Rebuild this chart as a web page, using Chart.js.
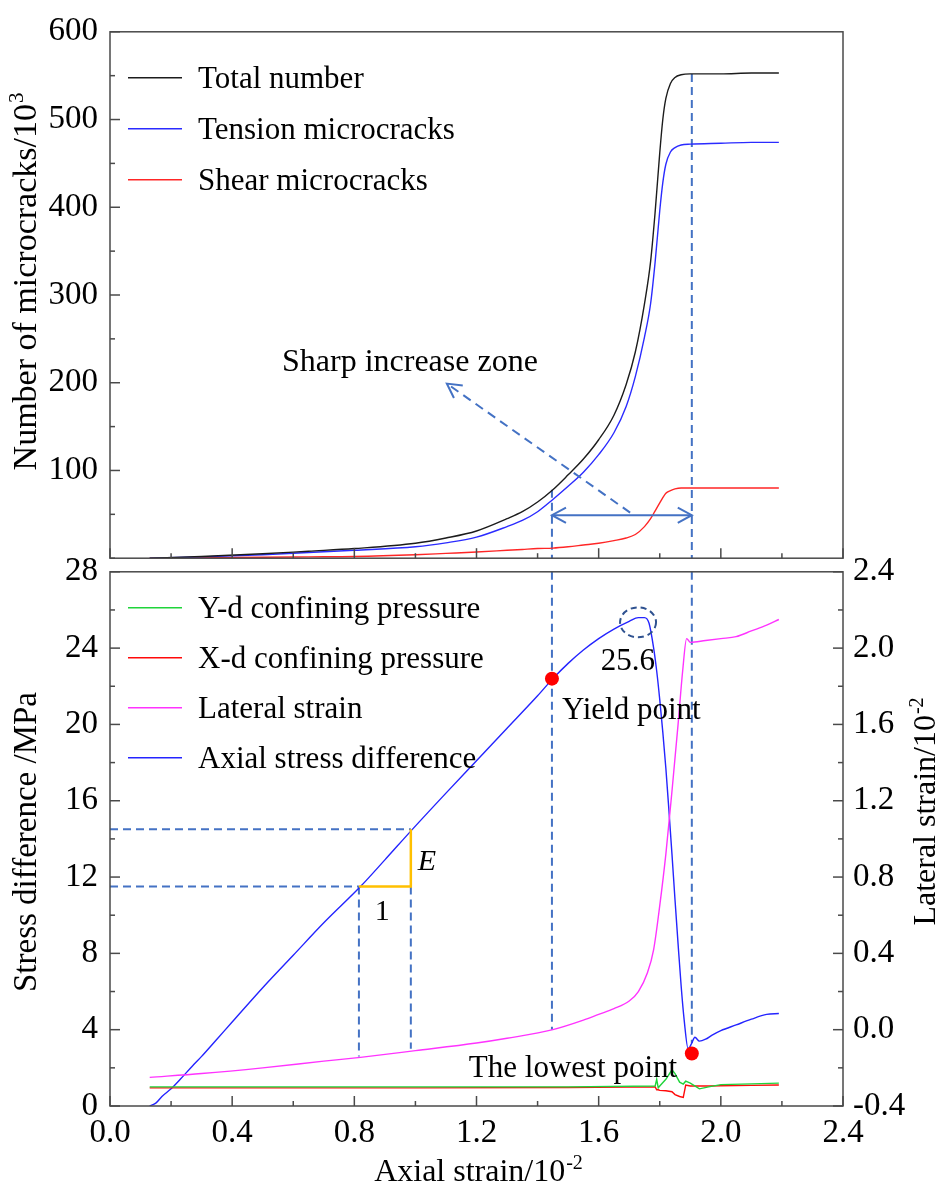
<!DOCTYPE html>
<html>
<head>
<meta charset="utf-8">
<title>Microcracks and stress-strain response</title>
<script src="https://cdn.jsdelivr.net/npm/chart.js@4.4.1/dist/chart.umd.min.js"></script>
<style>
  html, body { margin: 0; padding: 0; background: #fff; }
  #fig { position: relative; width: 938px; height: 1190px; overflow: hidden; }
  #fig canvas { position: absolute; left: 0; }
  #crackChart { top: 0; }
  #stressChart { top: 540px; }
</style>
</head>
<body>
<div id="fig">
  <canvas id="crackChart" width="938" height="590"></canvas>
  <canvas id="stressChart" width="938" height="650"></canvas>
</div>
<script>
var FONT = "'Liberation Serif', 'Times New Roman', serif";
var GUIDE = '#4472c4';

// upper panel: microcrack counts (x 10^3) against axial strain (x 10^-2)
var crackStrain   = [0.13, 0.3, 0.5, 0.65, 0.8, 1.0, 1.1, 1.2, 1.3, 1.35, 1.4, 1.45, 1.5, 1.55, 1.6, 1.65, 1.69, 1.72, 1.75, 1.77, 1.785, 1.8, 1.81, 1.82, 1.835, 1.85, 1.87, 1.9, 2.0, 2.1, 2.19];
var totalCracks   = [0, 2, 5, 8, 11, 17, 23, 31, 45, 53, 64, 78, 95, 113, 135, 163, 198, 235, 290, 338, 395, 462, 500, 524, 541, 548, 551, 552, 552, 553, 553];
var tensionCracks = [0, 1.5, 4, 6.5, 9, 13, 17.5, 24, 36, 43, 53, 67, 82, 98, 118, 143, 173, 207, 252, 290, 338, 396, 428, 449, 463, 468, 471, 472, 473, 474, 474];
var shearCracks   = [0, 0.5, 1, 1.5, 2, 4, 5.5, 7, 9, 10, 11, 11.5, 13, 15, 17, 20, 23, 27, 36, 45, 54, 63, 69, 74, 77, 79, 80, 80, 80, 80, 80];

// lower panel: stress difference (MPa) and lateral strain (x 10^-2)
var axialStrain = [0.13, 0.15, 0.17, 0.2, 0.23, 0.27, 0.3, 0.35, 0.4, 0.5, 0.6, 0.7, 0.82, 0.9, 0.99, 1.1, 1.2, 1.3, 1.4, 1.45, 1.5, 1.55, 1.6, 1.65, 1.7, 1.73, 1.75, 1.765, 1.78, 1.79, 1.8, 1.81, 1.82, 1.83, 1.84, 1.85, 1.86, 1.87, 1.88, 1.893, 1.905, 1.915, 1.93, 1.95, 1.97, 2.0, 2.05, 2.1, 2.15, 2.19];
var axialStress = [0, 0.15, 0.5, 0.9, 1.4, 2.1, 2.6, 3.5, 4.4, 6.2, 7.9, 9.6, 11.5, 12.9, 14.5, 16.4, 18.1, 19.8, 21.5, 22.4, 23.2, 23.9, 24.5, 25.0, 25.4, 25.6, 25.6, 25.3, 24.0, 22.8, 21.3, 19.6, 17.7, 15.5, 13.2, 10.8, 8.5, 6.3, 4.5, 3.0, 3.3, 3.6, 3.4, 3.5, 3.7, 3.95, 4.25, 4.55, 4.8, 4.85];

var lateralX      = [0.13, 0.3, 0.5, 0.7, 0.82, 1.0, 1.2, 1.3, 1.45, 1.55, 1.6, 1.65, 1.7, 1.73, 1.76, 1.78, 1.8, 1.82, 1.84, 1.86, 1.875, 1.888, 1.9, 1.95, 2.0, 2.05, 2.1, 2.15, 2.19];
var lateralStrain = [-0.25, -0.23, -0.2, -0.165, -0.145, -0.11, -0.07, -0.045, 0.0, 0.05, 0.08, 0.11, 0.15, 0.2, 0.3, 0.42, 0.65, 0.92, 1.25, 1.6, 1.88, 2.05, 2.03, 2.04, 2.05, 2.06, 2.09, 2.12, 2.15];

var confStrain = [0.13, 0.5, 1.0, 1.5, 1.785, 1.79, 1.795, 1.8, 1.82, 1.84, 1.85, 1.865, 1.877, 1.885, 1.9, 1.93, 1.96, 2.0, 2.1, 2.19];
var yConfining = [1.0, 1.0, 1.0, 1.0, 1.05, 1.4, 0.95, 1.05, 1.4, 1.9, 1.7, 1.25, 1.15, 1.3, 1.2, 0.9, 1.0, 1.12, 1.16, 1.2];
var xConfining = [0.95, 0.95, 0.95, 0.97, 1.0, 0.85, 0.85, 0.82, 0.8, 0.75, 0.6, 0.5, 0.45, 1.1, 1.05, 1.05, 1.05, 1.06, 1.08, 1.1];

var yieldPoint  = {x: 1.447, y: 22.4};
var lowestPoint = {x: 1.905, y: 2.75};
var peakLabel   = '25.6';

// modulus triangle
var modulusLow  = {x: 0.815, y: 11.5};
var modulusHigh = {x: 0.985, y: 14.5};

// axis ticks
var strainTicks  = [0, 0.4, 0.8, 1.2, 1.6, 2.0, 2.4];
var crackTicks   = [100, 200, 300, 400, 500, 600];
var stressTicks  = [0, 4, 8, 12, 16, 20, 24, 28];
var lateralTicks = [-0.4, 0, 0.4, 0.8, 1.2, 1.6, 2.0, 2.4];

function xy(xs, ys) {
  return xs.map(function (x, i) { return {x: x, y: ys[i]}; });
}

function fixTicks(list) {
  return function (s) { s.ticks = list.map(function (v) { return {value: v}; }); };
}

function seg(ctx, x1, y1, x2, y2) {
  ctx.beginPath(); ctx.moveTo(x1, y1); ctx.lineTo(x2, y2); ctx.stroke();
}

function arrowHead(ctx, tipX, tipY, fromX, fromY, size) {
  var a = Math.atan2(tipY - fromY, tipX - fromX);
  ctx.beginPath();
  ctx.moveTo(tipX - size * Math.cos(a - 0.5), tipY - size * Math.sin(a - 0.5));
  ctx.lineTo(tipX, tipY);
  ctx.lineTo(tipX - size * Math.cos(a + 0.5), tipY - size * Math.sin(a + 0.5));
  ctx.stroke();
}

// rotated / horizontal title with a small raised exponent
function drawTitle(ctx, text, sup, x, y, rot, size) {
  ctx.save();
  ctx.translate(x, y);
  ctx.rotate(rot);
  ctx.fillStyle = '#000';
  ctx.textBaseline = 'alphabetic';
  ctx.textAlign = 'left';
  ctx.font = size + 'px ' + FONT;
  var w1 = ctx.measureText(text).width;
  ctx.font = Math.round(size * 0.62) + 'px ' + FONT;
  var w2 = ctx.measureText(sup).width;
  var start = -(w1 + w2) / 2;
  ctx.font = size + 'px ' + FONT;
  ctx.fillText(text, start, 0);
  ctx.font = Math.round(size * 0.62) + 'px ' + FONT;
  ctx.fillText(sup, start + w1 + 1, -size * 0.38);
  ctx.restore();
}

function label(ctx, text, x, y, align, size, style) {
  ctx.font = (style ? style + ' ' : '') + size + 'px ' + FONT;
  ctx.textAlign = align;
  ctx.textBaseline = 'alphabetic';
  ctx.fillStyle = '#000';
  ctx.fillText(text, x, y);
}

// frame plus inward tick marks
var frameTicks = {
  id: 'frameTicks',
  afterDraw: function (chart, args, opts) {
    var ctx = chart.ctx, a = chart.chartArea;
    ctx.save();
    ctx.strokeStyle = '#4a4a4a';
    ctx.lineWidth = 1.5;
    ctx.setLineDash([]);
    ctx.strokeRect(a.left, a.top, a.right - a.left, a.bottom - a.top);
    opts.axes.forEach(function (ax) {
      var s = chart.scales[ax.id];
      var majors = s.ticks.map(function (t) { return t.value; });
      var n = Math.round((s.max - s.min) / ax.minor);
      for (var i = 0; i <= n; i++) {
        var v = s.min + i * ax.minor;
        var major = majors.some(function (m) { return Math.abs(m - v) < 1e-6; });
        var len = major ? 10 : 5;
        var p = s.getPixelForValue(v);
        if (ax.side === 'left') seg(ctx, a.left, p, a.left + len, p);
        if (ax.side === 'right') seg(ctx, a.right, p, a.right - len, p);
        if (ax.side === 'bottom') seg(ctx, p, a.bottom, p, a.bottom - len);
      }
    });
    ctx.restore();
  }
};

// legend drawn inside the plot area
var innerLegend = {
  id: 'innerLegend',
  afterDraw: function (chart, args, opts) {
    var ctx = chart.ctx, a = chart.chartArea;
    ctx.save();
    ctx.font = '31px ' + FONT;
    ctx.textBaseline = 'middle';
    ctx.textAlign = 'left';
    opts.items.forEach(function (idx, i) {
      var ds = chart.data.datasets[idx];
      var y = a.top + opts.first + i * opts.gap;
      ctx.strokeStyle = ds.borderColor;
      ctx.lineWidth = 1.6;
      seg(ctx, a.left + 18, y, a.left + 72, y);
      ctx.fillStyle = '#000';
      ctx.fillText(ds.label, a.left + 88, y + 2);
    });
    ctx.restore();
  }
};

var tickFont = {family: FONT, size: 33};

// ---------- upper panel ----------
var crackNotes = {
  id: 'crackNotes',
  beforeDatasetsDraw: function (chart) {
    var ctx = chart.ctx, x = chart.scales.x, y = chart.scales.y;
    ctx.save();
    ctx.strokeStyle = GUIDE;
    ctx.lineWidth = 2;
    ctx.setLineDash([8, 5]);
    var yTop = totalCracks[crackStrain.indexOf(1.45)];
    seg(ctx, x.getPixelForValue(yieldPoint.x), y.getPixelForValue(yTop), x.getPixelForValue(yieldPoint.x), y.bottom);
    seg(ctx, x.getPixelForValue(lowestPoint.x), y.getPixelForValue(552), x.getPixelForValue(lowestPoint.x), y.bottom);
    ctx.restore();
  },
  afterDatasetsDraw: function (chart) {
    var ctx = chart.ctx, x = chart.scales.x, y = chart.scales.y;
    ctx.save();
    ctx.strokeStyle = GUIDE;
    ctx.lineWidth = 2;
    // dashed pointer to the zone label
    ctx.setLineDash([9, 6]);
    var x1 = x.getPixelForValue(1.703), y1 = y.getPixelForValue(52);
    var x2 = x.getPixelForValue(1.103), y2 = y.getPixelForValue(199);
    seg(ctx, x1, y1, x2, y2);
    ctx.setLineDash([]);
    arrowHead(ctx, x2, y2, x1, y1, 16);
    // double arrow spanning yield to lowest point
    var za = x.getPixelForValue(yieldPoint.x), zb = x.getPixelForValue(lowestPoint.x), zy = y.getPixelForValue(49);
    seg(ctx, za, zy, zb, zy);
    arrowHead(ctx, za, zy, zb, zy, 16);
    arrowHead(ctx, zb, zy, za, zy, 16);
    label(ctx, 'Sharp increase zone', x.getPixelForValue(0.982), y.getPixelForValue(213), 'center', 32);
    ctx.restore();
  },
  afterDraw: function (chart) {
    drawTitle(chart.ctx, 'Number of microcracks/10', '3', 36, 282, -Math.PI / 2, 34);
  }
};

new Chart(document.getElementById('crackChart'), {
  type: 'line',
  data: {
    datasets: [
      {label: 'Total number', data: xy(crackStrain, totalCracks), borderColor: '#1c1c1c'},
      {label: 'Tension microcracks', data: xy(crackStrain, tensionCracks), borderColor: '#2b2bff'},
      {label: 'Shear microcracks', data: xy(crackStrain, shearCracks), borderColor: '#ff2626'}
    ]
  },
  options: {
    responsive: false,
    animation: false,
    devicePixelRatio: 1,
    elements: {
      line: {borderWidth: 1.4, cubicInterpolationMode: 'monotone'},
      point: {radius: 0}
    },
    layout: {padding: {left: 0, right: 95, top: 27, bottom: 23}},
    plugins: {
      legend: {display: false},
      tooltip: {enabled: false},
      innerLegend: {items: [0, 1, 2], first: 46, gap: 51},
      frameTicks: {axes: [{id: 'y', side: 'left', minor: 50}, {id: 'x', side: 'bottom', minor: 0.2}]}
    },
    scales: {
      x: {
        type: 'linear', min: 0, max: 2.4,
        afterBuildTicks: fixTicks(strainTicks),
        afterFit: function (s) { s.height = 0; },
        ticks: {display: false},
        grid: {display: false, drawTicks: false},
        border: {display: false}
      },
      y: {
        type: 'linear', min: 0, max: 600,
        afterBuildTicks: fixTicks(crackTicks),
        afterFit: function (s) { s.width = 110; },
        ticks: {font: tickFont, color: '#000', padding: 12, callback: function (v) { return String(v); }},
        grid: {display: false, drawTicks: false},
        border: {display: false}
      }
    }
  },
  plugins: [frameTicks, innerLegend, crackNotes]
});

// ---------- lower panel ----------
var stressNotes = {
  id: 'stressNotes',
  beforeDatasetsDraw: function (chart) {
    var ctx = chart.ctx, x = chart.scales.x, y = chart.scales.y;
    var px = function (v) { return x.getPixelForValue(v); };
    var py = function (v) { return y.getPixelForValue(v); };
    ctx.save();
    ctx.strokeStyle = GUIDE;
    ctx.lineWidth = 2;
    ctx.setLineDash([8, 5]);
    // drop lines continuing from the upper panel
    seg(ctx, px(yieldPoint.x), y.top, px(yieldPoint.x), py(4.0));
    seg(ctx, px(lowestPoint.x), y.top, px(lowestPoint.x), py(3.3));
    // modulus construction
    seg(ctx, x.left, py(modulusHigh.y), px(modulusHigh.x), py(modulusHigh.y));
    seg(ctx, x.left, py(modulusLow.y), px(modulusLow.x), py(modulusLow.y));
    seg(ctx, px(modulusLow.x), py(modulusLow.y), px(modulusLow.x), py(2.6));
    seg(ctx, px(modulusHigh.x), py(modulusLow.y), px(modulusHigh.x), py(3.0));
    ctx.restore();
  },
  afterDatasetsDraw: function (chart) {
    var ctx = chart.ctx, x = chart.scales.x, y = chart.scales.y;
    var px = function (v) { return x.getPixelForValue(v); };
    var py = function (v) { return y.getPixelForValue(v); };
    ctx.save();
    // unit step and rise
    ctx.strokeStyle = '#ffc000';
    ctx.lineWidth = 2.5;
    ctx.setLineDash([]);
    ctx.beginPath();
    ctx.moveTo(px(modulusLow.x), py(modulusLow.y));
    ctx.lineTo(px(modulusHigh.x), py(modulusLow.y));
    ctx.lineTo(px(modulusHigh.x), py(modulusHigh.y));
    ctx.stroke();
    // dashed ring round the peak
    ctx.strokeStyle = '#2f5290';
    ctx.lineWidth = 2;
    ctx.setLineDash([6, 4]);
    ctx.beginPath();
    ctx.ellipse(px(1.729), py(25.35), 18, 15, 0, 0, Math.PI * 2);
    ctx.stroke();
    ctx.restore();
    ctx.save();
    label(ctx, peakLabel, px(1.696), py(22.86), 'center', 31);
    label(ctx, 'Yield point', px(1.48), py(20.3), 'left', 31);
    label(ctx, 'The lowest point', px(1.516), py(1.5), 'center', 31);
    label(ctx, 'E', px(1.008), py(12.36), 'left', 30, 'italic');
    label(ctx, '1', px(0.891), py(9.77), 'center', 30);
    ctx.restore();
  },
  afterDraw: function (chart) {
    var ctx = chart.ctx;
    drawTitle(ctx, 'Stress difference /MPa', '', 36, 302, -Math.PI / 2, 33);
    drawTitle(ctx, 'Lateral strain/10', '-2', 935, 272, -Math.PI / 2, 32);
    drawTitle(ctx, 'Axial strain/10', '-2', 478, 641, 0, 32);
  }
};

new Chart(document.getElementById('stressChart'), {
  type: 'line',
  data: {
    datasets: [
      {label: 'markers', data: [yieldPoint, lowestPoint], showLine: false, order: -1,
       pointRadius: 7, pointBackgroundColor: '#ff0000', pointBorderWidth: 0},
      {label: 'Y-d confining pressure', data: xy(confStrain, yConfining), borderColor: '#1fd43a', cubicInterpolationMode: 'default', tension: 0},
      {label: 'X-d confining pressure', data: xy(confStrain, xConfining), borderColor: '#ff0a0a', cubicInterpolationMode: 'default', tension: 0},
      {label: 'Lateral strain', data: xy(lateralX, lateralStrain), borderColor: '#ff33ff', yAxisID: 'y2'},
      {label: 'Axial stress difference', data: xy(axialStrain, axialStress), borderColor: '#2424ff'}
    ]
  },
  options: {
    responsive: false,
    animation: false,
    devicePixelRatio: 1,
    elements: {
      line: {borderWidth: 1.4, cubicInterpolationMode: 'monotone'},
      point: {radius: 0}
    },
    layout: {padding: {left: 0, right: 0, top: 27, bottom: 0}},
    plugins: {
      legend: {display: false},
      tooltip: {enabled: false},
      innerLegend: {items: [1, 2, 3, 4], first: 36, gap: 50},
      frameTicks: {axes: [
        {id: 'y', side: 'left', minor: 2},
        {id: 'y2', side: 'right', minor: 0.2},
        {id: 'x', side: 'bottom', minor: 0.2}
      ]}
    },
    scales: {
      x: {
        type: 'linear', min: 0, max: 2.4,
        afterBuildTicks: fixTicks(strainTicks),
        afterFit: function (s) { s.height = 84; },
        ticks: {font: tickFont, color: '#000', padding: 8, maxRotation: 0, callback: function (v) { return v.toFixed(1); }},
        grid: {display: false, drawTicks: false},
        border: {display: false}
      },
      y: {
        type: 'linear', position: 'left', min: 0, max: 28,
        afterBuildTicks: fixTicks(stressTicks),
        afterFit: function (s) { s.width = 110; },
        ticks: {font: tickFont, color: '#000', padding: 12, callback: function (v) { return String(v); }},
        grid: {display: false, drawTicks: false},
        border: {display: false}
      },
      y2: {
        type: 'linear', position: 'right', min: -0.4, max: 2.4,
        afterBuildTicks: fixTicks(lateralTicks),
        afterFit: function (s) { s.width = 95; },
        ticks: {font: tickFont, color: '#000', padding: 10, callback: function (v) { return v.toFixed(1); }},
        grid: {display: false, drawTicks: false},
        border: {display: false}
      }
    }
  },
  plugins: [frameTicks, innerLegend, stressNotes]
});
</script>
</body>
</html>
